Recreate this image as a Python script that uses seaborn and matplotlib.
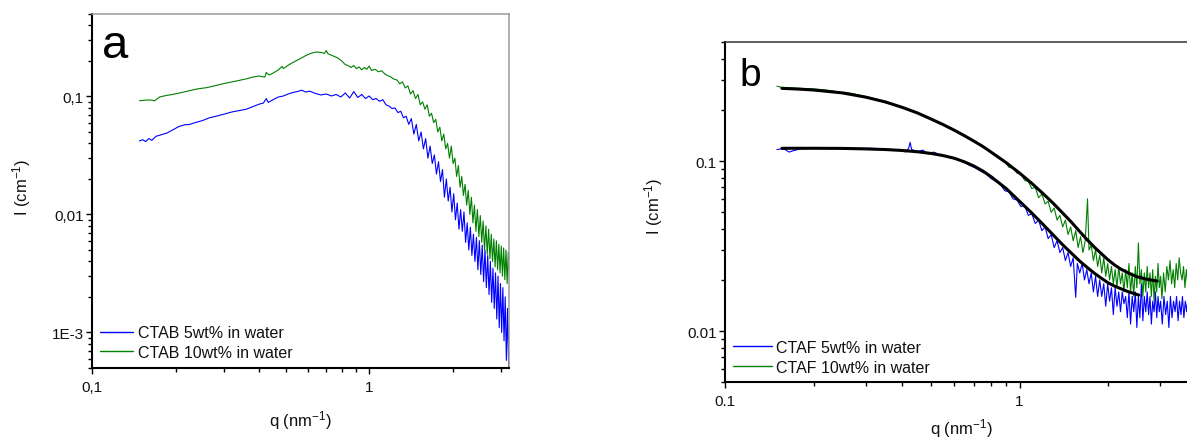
import numpy as np
import pandas as pd
import matplotlib
matplotlib.use("Agg")
import matplotlib.pyplot as plt
import seaborn as sns
from matplotlib.ticker import FixedLocator, FixedFormatter, LogLocator, NullFormatter

# ---------------- data: panel a (CTAB) ----------------
q_ctab5 = [0.148, 0.152, 0.156, 0.160, 0.164, 0.170, 0.178, 0.186, 0.195, 0.205, 0.215, 0.225, 0.235, 0.250,
           0.265, 0.28, 0.30, 0.32, 0.34, 0.36, 0.38, 0.40, 0.415, 0.425, 0.432, 0.45, 0.47, 0.49, 0.51, 0.53,
           0.55, 0.57, 0.59, 0.61, 0.64, 0.67, 0.70, 0.73, 0.76, 0.79, 0.82, 0.85, 0.88, 0.91, 0.94, 0.97,
           1.00, 1.03, 1.06, 1.09, 1.12, 1.15, 1.18, 1.21, 1.24, 1.27, 1.30, 1.33, 1.36, 1.39, 1.42, 1.45,
           1.48, 1.51, 1.54, 1.57, 1.60, 1.63, 1.66, 1.69, 1.72, 1.75, 1.78, 1.81, 1.84, 1.87, 1.90, 1.93,
           1.96, 1.99, 2.02, 2.05, 2.08, 2.11, 2.14, 2.17, 2.20, 2.23, 2.26, 2.29, 2.32, 2.35, 2.38, 2.41,
           2.44, 2.47, 2.50, 2.53, 2.56, 2.59, 2.62, 2.65, 2.68, 2.71, 2.74, 2.77, 2.80, 2.83, 2.86, 2.89,
           2.92, 2.95, 2.98, 3.01, 3.04, 3.07, 3.10, 3.13, 3.16, 3.19, 3.21]
I_ctab5 = [0.042, 0.043, 0.0415, 0.044, 0.0425, 0.046, 0.0475, 0.049, 0.052, 0.0555, 0.0575, 0.058, 0.060, 0.0625,
           0.066, 0.068, 0.071, 0.074, 0.076, 0.078, 0.082, 0.086, 0.088, 0.096, 0.089, 0.094, 0.099, 0.101, 0.105, 0.108,
           0.110, 0.113, 0.109, 0.111, 0.106, 0.103, 0.105, 0.101, 0.104, 0.099, 0.107, 0.097, 0.110, 0.098, 0.104, 0.096,
           0.101, 0.094, 0.096, 0.091, 0.094, 0.085, 0.083, 0.079, 0.080, 0.073, 0.075, 0.066, 0.068, 0.058, 0.065, 0.048,
           0.058, 0.042, 0.050, 0.036, 0.044, 0.030, 0.038, 0.027, 0.032, 0.022, 0.028, 0.019, 0.024, 0.014, 0.020, 0.013,
           0.017, 0.0105, 0.015, 0.009, 0.0125, 0.0075, 0.011, 0.0072, 0.0105, 0.0058, 0.0085, 0.0050, 0.0078, 0.0045, 0.0068, 0.0040,
           0.0064, 0.0034, 0.0060, 0.0031, 0.0055, 0.0027, 0.0050, 0.0024, 0.0045, 0.0021, 0.0040, 0.0018, 0.0035, 0.0016, 0.0032, 0.0013,
           0.0030, 0.0011, 0.0026, 0.0010, 0.0024, 0.00085, 0.0020, 0.00058, 0.0016, 0.0005, 0.0012]

q_ctab10 = [0.148, 0.155, 0.162, 0.168, 0.175, 0.185, 0.195, 0.21, 0.225, 0.24, 0.26, 0.28, 0.30, 0.32, 0.34, 0.36,
            0.38, 0.40, 0.42, 0.425, 0.435, 0.45, 0.47, 0.485, 0.49, 0.51, 0.53, 0.55, 0.57, 0.59, 0.61, 0.63,
            0.65, 0.67, 0.69, 0.70, 0.71, 0.74, 0.77, 0.80, 0.82, 0.84, 0.86, 0.88, 0.90, 0.92, 0.94, 0.96,
            0.98, 1.00, 1.02, 1.05, 1.08, 1.11, 1.14, 1.17, 1.20, 1.23, 1.26, 1.29, 1.32, 1.35, 1.38, 1.41,
            1.44, 1.47, 1.50, 1.53, 1.56, 1.59, 1.62, 1.65, 1.68, 1.71, 1.74, 1.77, 1.80, 1.83, 1.86, 1.89,
            1.92, 1.95, 1.98, 2.01, 2.04, 2.07, 2.10, 2.13, 2.16, 2.19, 2.22, 2.25, 2.28, 2.31, 2.34, 2.37,
            2.40, 2.43, 2.46, 2.49, 2.52, 2.55, 2.58, 2.61, 2.64, 2.67, 2.70, 2.73, 2.76, 2.79, 2.82, 2.85,
            2.88, 2.91, 2.94, 2.97, 3.00, 3.03, 3.06, 3.09, 3.12, 3.15, 3.18, 3.21]
I_ctab10 = [0.092, 0.093, 0.0935, 0.092, 0.099, 0.102, 0.104, 0.108, 0.112, 0.116, 0.119, 0.124, 0.129, 0.133, 0.137, 0.141,
            0.146, 0.149, 0.146, 0.160, 0.152, 0.158, 0.168, 0.180, 0.172, 0.184, 0.194, 0.203, 0.212, 0.222, 0.230, 0.236,
            0.238, 0.236, 0.232, 0.245, 0.230, 0.221, 0.212, 0.198, 0.186, 0.183, 0.176, 0.183, 0.172, 0.178, 0.168, 0.176,
            0.170, 0.181, 0.166, 0.170, 0.162, 0.165, 0.155, 0.150, 0.146, 0.140, 0.138, 0.128, 0.133, 0.118, 0.123, 0.105,
            0.112, 0.096, 0.104, 0.085, 0.090, 0.078, 0.085, 0.068, 0.072, 0.060, 0.064, 0.050, 0.055, 0.042, 0.048, 0.036,
            0.040, 0.030, 0.038, 0.027, 0.030, 0.021, 0.026, 0.017, 0.021, 0.0145, 0.018, 0.012, 0.016, 0.010, 0.014, 0.0085,
            0.012, 0.0072, 0.011, 0.0065, 0.0098, 0.0058, 0.0088, 0.0050, 0.0080, 0.0046, 0.0075, 0.0042, 0.0068, 0.0040, 0.0062, 0.0036,
            0.0060, 0.0034, 0.0056, 0.0032, 0.0054, 0.0030, 0.0052, 0.0028, 0.0050, 0.0026, 0.0048, 0.0030]

# ---------------- data: panel b (CTAF) ----------------
q_ctaf10 = [0.150, 0.155, 0.165, 0.18, 0.20, 0.22, 0.235, 0.245, 0.255, 0.27, 0.29, 0.31, 0.33, 0.35, 0.37, 0.39,
            0.41, 0.43, 0.45, 0.48, 0.51, 0.54, 0.57, 0.60, 0.63, 0.66, 0.69, 0.72, 0.75, 0.78, 0.81, 0.84,
            0.87, 0.90, 0.92, 0.95, 0.98, 1.01, 1.04, 1.07, 1.10, 1.13, 1.16, 1.19, 1.22, 1.25, 1.28, 1.31,
            1.34, 1.37, 1.40, 1.43, 1.46, 1.49, 1.52, 1.55, 1.58, 1.61, 1.64, 1.67, 1.70, 1.72, 1.75, 1.78,
            1.81, 1.84, 1.87, 1.90, 1.93, 1.96, 1.99, 2.02, 2.05, 2.08, 2.11, 2.14, 2.17, 2.20, 2.23, 2.26,
            2.29, 2.32, 2.35, 2.38, 2.41, 2.44, 2.47, 2.50, 2.53, 2.56, 2.59, 2.62, 2.65, 2.68, 2.71, 2.74,
            2.77, 2.80, 2.83, 2.86, 2.89, 2.92, 2.95, 2.98, 3.01, 3.04, 3.08, 3.12, 3.16, 3.20, 3.24, 3.28,
            3.32, 3.36, 3.40, 3.44, 3.48, 3.52, 3.56, 3.60, 3.64, 3.68, 3.72, 3.76, 3.80]
I_ctaf10 = [0.276, 0.272, 0.270, 0.268, 0.266, 0.262, 0.258, 0.251, 0.254, 0.250, 0.243, 0.237, 0.228, 0.221, 0.216, 0.210,
            0.205, 0.198, 0.192, 0.183, 0.175, 0.167, 0.160, 0.153, 0.146, 0.140, 0.133, 0.127, 0.121, 0.116, 0.111, 0.105,
            0.102, 0.097, 0.092, 0.091, 0.085, 0.084, 0.077, 0.076, 0.069, 0.070, 0.061, 0.064, 0.056, 0.058, 0.050, 0.053,
            0.045, 0.048, 0.041, 0.045, 0.037, 0.041, 0.034, 0.039, 0.031, 0.036, 0.029, 0.034, 0.060, 0.030, 0.032, 0.026,
            0.030, 0.024, 0.028, 0.022, 0.027, 0.021, 0.025, 0.020, 0.024, 0.019, 0.023, 0.018, 0.024, 0.019, 0.022, 0.017,
            0.023, 0.018, 0.025, 0.017, 0.022, 0.016, 0.024, 0.018, 0.033, 0.019, 0.023, 0.016, 0.022, 0.017, 0.024, 0.018,
            0.022, 0.016, 0.023, 0.015, 0.021, 0.017, 0.025, 0.018, 0.021, 0.0155, 0.022, 0.017, 0.024, 0.020, 0.026, 0.019,
            0.023, 0.018, 0.025, 0.020, 0.027, 0.022, 0.020, 0.024, 0.018, 0.023, 0.019, 0.022, 0.020]

q_ctaf5 = [0.150, 0.155, 0.16, 0.165, 0.17, 0.18, 0.20, 0.22, 0.25, 0.28, 0.31, 0.34, 0.37, 0.40, 0.41, 0.42,
           0.425, 0.43, 0.45, 0.47, 0.49, 0.51, 0.53, 0.56, 0.59, 0.62, 0.65, 0.68, 0.71, 0.74, 0.77, 0.80,
           0.83, 0.86, 0.89, 0.92, 0.95, 0.98, 1.01, 1.04, 1.07, 1.10, 1.13, 1.16, 1.19, 1.22, 1.25, 1.28,
           1.31, 1.34, 1.37, 1.40, 1.43, 1.46, 1.49, 1.52, 1.55, 1.57, 1.60, 1.63, 1.66, 1.69, 1.72, 1.75,
           1.78, 1.81, 1.84, 1.87, 1.90, 1.93, 1.96, 1.99, 2.02, 2.05, 2.08, 2.11, 2.14, 2.17, 2.20, 2.23,
           2.26, 2.29, 2.32, 2.35, 2.38, 2.41, 2.44, 2.47, 2.50, 2.53, 2.56, 2.59, 2.62, 2.65, 2.68, 2.71,
           2.74, 2.77, 2.80, 2.83, 2.86, 2.89, 2.92, 2.95, 2.98, 3.01, 3.05, 3.09, 3.13, 3.17, 3.21, 3.25,
           3.29, 3.33, 3.37, 3.41, 3.45, 3.49, 3.53, 3.57, 3.61, 3.65, 3.69, 3.73, 3.77, 3.80]
I_ctaf5 = [0.117, 0.118, 0.117, 0.113, 0.115, 0.118, 0.119, 0.119, 0.120, 0.119, 0.119, 0.118, 0.117, 0.116, 0.113, 0.119,
           0.129, 0.117, 0.114, 0.116, 0.110, 0.113, 0.110, 0.107, 0.104, 0.102, 0.098, 0.094, 0.091, 0.087, 0.084, 0.079,
           0.076, 0.073, 0.067, 0.066, 0.060, 0.059, 0.054, 0.055, 0.048, 0.049, 0.043, 0.045, 0.039, 0.041, 0.035, 0.037,
           0.031, 0.034, 0.029, 0.031, 0.026, 0.029, 0.024, 0.027, 0.0158, 0.025, 0.022, 0.025, 0.020, 0.023, 0.019, 0.022,
           0.017, 0.021, 0.016, 0.020, 0.016, 0.019, 0.014, 0.019, 0.015, 0.018, 0.0125, 0.018, 0.014, 0.017, 0.013, 0.017,
           0.0145, 0.016, 0.012, 0.017, 0.011, 0.016, 0.013, 0.017, 0.0105, 0.016, 0.012, 0.019, 0.0115, 0.016, 0.013, 0.017,
           0.0125, 0.016, 0.011, 0.015, 0.013, 0.017, 0.012, 0.016, 0.013, 0.015, 0.011, 0.016, 0.0125, 0.015, 0.0105, 0.016,
           0.012, 0.015, 0.013, 0.016, 0.0115, 0.015, 0.0125, 0.016, 0.012, 0.015, 0.013, 0.016, 0.012, 0.014]

# model fits (black curves)
q_fit10 = [0.156, 0.18, 0.20, 0.25, 0.30, 0.35, 0.40, 0.45, 0.50, 0.55, 0.60, 0.65, 0.70, 0.75, 0.80, 0.90,
           1.00, 1.10, 1.20, 1.30, 1.40, 1.50, 1.60, 1.70, 1.80, 1.90, 2.00, 2.10, 2.20, 2.35, 2.50, 2.70, 2.93]
I_fit10 = [0.268, 0.265, 0.262, 0.252, 0.238, 0.223, 0.207, 0.192, 0.177, 0.164, 0.152, 0.141, 0.131, 0.122, 0.113, 0.098,
           0.085, 0.074, 0.0645, 0.0565, 0.0495, 0.0437, 0.0385, 0.0343, 0.0310, 0.0284, 0.0262, 0.0245, 0.0232, 0.0219, 0.0209, 0.0202, 0.0197]
q_fit5 = [0.156, 0.20, 0.25, 0.30, 0.35, 0.40, 0.45, 0.50, 0.55, 0.60, 0.65, 0.70, 0.75, 0.80, 0.90, 1.00,
          1.10, 1.20, 1.30, 1.40, 1.50, 1.60, 1.70, 1.80, 1.90, 2.00, 2.10, 2.20, 2.35, 2.54]
I_fit5 = [0.119, 0.119, 0.1188, 0.118, 0.117, 0.1155, 0.1135, 0.111, 0.1078, 0.104, 0.099, 0.0935, 0.0875, 0.081, 0.069, 0.058,
          0.0495, 0.0425, 0.0368, 0.0322, 0.0287, 0.0258, 0.0236, 0.0218, 0.0204, 0.0192, 0.0184, 0.0178, 0.0170, 0.0163]

labels_a = ["CTAB 5wt% in water", "CTAB 10wt% in water"]
labels_b = ["CTAF 5wt% in water", "CTAF 10wt% in water"]

BLUE = "#0000ff"
GREEN = "#008000"

sns.set_theme(style="ticks")
plt.rcParams["font.family"] = ["Liberation Sans", "DejaVu Sans"]
plt.rcParams["mathtext.default"] = "regular"

fig = plt.figure(figsize=(11.87, 4.39), dpi=100)
axA = fig.add_axes([92.3 / 1187, (439 - 369) / 439, (509.4 - 92.3) / 1187, (369 - 15) / 439])
axB = fig.add_axes([725 / 1187, (439 - 383.3) / 439, (1197 - 725) / 1187, (383.3 - 43.3) / 439])

# panel a
sns.lineplot(x=q_ctab5, y=I_ctab5, ax=axA, color=BLUE, lw=0.8, label=labels_a[0], estimator=None, sort=False)
sns.lineplot(x=q_ctab10, y=I_ctab10, ax=axA, color=GREEN, lw=0.8, label=labels_a[1], estimator=None, sort=False)

# panel b
sns.lineplot(x=q_ctaf5, y=I_ctaf5, ax=axB, color=BLUE, lw=0.8, label=labels_b[0], estimator=None, sort=False)
sns.lineplot(x=q_ctaf10, y=I_ctaf10, ax=axB, color=GREEN, lw=0.8, label=labels_b[1], estimator=None, sort=False)
sns.lineplot(x=q_fit10, y=I_fit10, ax=axB, color="black", lw=2.2, estimator=None, sort=False)
sns.lineplot(x=q_fit5, y=I_fit5, ax=axB, color="black", lw=2.2, estimator=None, sort=False)


def style_axis(ax, xlim, ylim, xt, xtl, yt, ytl, topcolor):
    ax.set_xscale("log")
    ax.set_yscale("log")
    ax.set_xlim(*xlim)
    ax.set_ylim(*ylim)
    ax.xaxis.set_major_locator(FixedLocator(xt))
    ax.xaxis.set_major_formatter(FixedFormatter(xtl))
    ax.yaxis.set_major_locator(FixedLocator(yt))
    ax.yaxis.set_major_formatter(FixedFormatter(ytl))
    ax.xaxis.set_minor_locator(LogLocator(base=10, subs=np.arange(2, 10) * 1.0, numticks=30))
    ax.yaxis.set_minor_locator(LogLocator(base=10, subs=np.arange(2, 10) * 1.0, numticks=30))
    ax.xaxis.set_minor_formatter(NullFormatter())
    ax.yaxis.set_minor_formatter(NullFormatter())
    ax.tick_params(which="both", direction="out", top=False, right=False, color="black", width=1.0,
                   labelsize=11, labelcolor="#111111")
    ax.tick_params(which="major", length=4.5)
    ax.tick_params(which="minor", length=2.6)
    ax.tick_params(axis="y", which="major", pad=1.5)
    ax.tick_params(axis="x", which="major", pad=4)
    for s in ("left", "bottom"):
        ax.spines[s].set_color("black")
        ax.spines[s].set_linewidth(1.5)
    for s in ("top", "right"):
        ax.spines[s].set_color(topcolor)
        ax.spines[s].set_linewidth(1.1)
    ax.set_facecolor("white")


style_axis(axA, (0.1, 3.21), (5e-4, 0.5), [0.1, 1], ["0,1", "1"],
           [1e-3, 1e-2, 1e-1], ["1E-3", "0,01", "0,1"], "#9a9a9a")
style_axis(axB, (0.1, 4.0), (0.005, 0.5), [0.1, 1], ["0.1", "1"],
           [0.01, 0.1], ["0.01", "0.1"], "#333333")

for ax, rx, ry, bx, by in [(axA, -0.142, 0.514, 0.5, -0.112), (axB, -0.127, 0.52, 0.5, -0.098)]:
    ax.set_ylabel("I (cm$^{-1}$)", fontsize=12, color="#111111")
    ax.set_xlabel("q (nm$^{-1}$)", fontsize=12, color="#111111")
    ax.yaxis.set_label_coords(rx, ry)
    ax.xaxis.set_label_coords(bx, by)

legA = axA.legend(loc="center left", bbox_to_anchor=(0.018, 0.072), frameon=False, fontsize=11.5,
                  handlelength=2.1, handletextpad=0.3, labelspacing=0.3, borderpad=0, borderaxespad=0)
legB = axB.legend(loc="center left", bbox_to_anchor=(0.017, 0.0735), frameon=False, fontsize=11.5,
                  handlelength=2.45, handletextpad=0.25, labelspacing=0.3, borderpad=0, borderaxespad=0)
for leg in (legA, legB):
    for h in leg.get_lines():
        h.set_linewidth(1.0)
    for t in leg.get_texts():
        t.set_color("#111111")

axA.text(0.024, 0.879, "a", transform=axA.transAxes, fontsize=34, ha="left", va="baseline", color="black")
axB.text(0.030, 0.874, "b", transform=axB.transAxes, fontsize=28, ha="left", va="baseline", color="black")

fig.savefig("out.png", dpi=100, facecolor="white")
